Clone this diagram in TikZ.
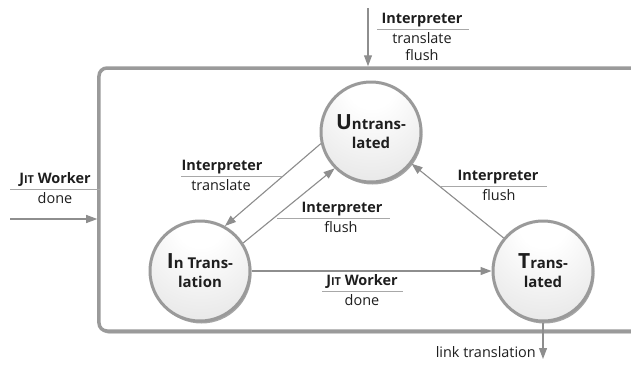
\documentclass[tikz,border=0pt]{standalone}
\usepackage{fontspec}
\setmainfont{Open Sans}
\usetikzlibrary{arrows.meta,shadows,calc}
\definecolor{arrgray}{HTML}{8E8E8E}
\definecolor{labgray}{HTML}{A8A8A8}
\definecolor{rimgray}{HTML}{9A9A9A}
\definecolor{txt}{HTML}{1E1E1E}
\pgfdeclareradialshading{ballgray}{\pgfpoint{0bp}{30bp}}{color(0bp)=(white); color(12bp)=(white); color(60bp)=(black!17)}
\newcommand{\jit}{J{\fontsize{11}{12}\selectfont IT}}
\begin{document}
\begin{tikzpicture}[x=1bp,y=-1bp,
  state/.style={circle, minimum size=100bp, inner sep=0pt, draw=rimgray, line width=3bp,
    shading=ballgray,
    drop shadow={shadow xshift=1.5bp, shadow yshift=-2.5bp, opacity=0.35, fill=black},
    align=center, text=txt, font=\bfseries\fontsize{15}{19}\selectfont},
  outerbox/.style={draw=rimgray, line width=3.5bp, rounded corners=8bp, fill=white,
    minimum width=621bp, minimum height=263bp, inner sep=0pt,
    drop shadow={shadow xshift=1.5bp, shadow yshift=-2.5bp, opacity=0.3, fill=black}},
  conn/.style={draw=arrgray, line width=1.1bp, -{Triangle[length=11bp,width=8bp]}, fill=arrgray},
  labline/.style={draw=labgray, line width=1bp},
  evtop/.style={anchor=base, inner sep=0pt, text=txt, font=\bfseries\fontsize{14.5}{16}\selectfont},
  evbot/.style={anchor=base, inner sep=0pt, text=txt, font=\fontsize{14.5}{16}\selectfont}]
\useasboundingbox (0,0) rectangle (631,373);

% outer box (open to the right)
\node[outerbox] (box) at (409.5,199.5) {};

% states
\node[state] (u) at (371,132) {{\fontsize{21}{19}\selectfont U}ntrans-\\lated};
\node[state] (i) at (200,271) {{\fontsize{21}{19}\selectfont I}n Trans-\\lation};
\node[state] (t) at (543,271) {{\fontsize{21}{19}\selectfont T}rans-\\lated};

% free ends
\coordinate (topin) at (368,8);
\coordinate (leftin) at (10,219);
\coordinate (linkout) at (543,359);

% connectors
\draw[conn] (topin) -- (topin |- box.north);
\draw[conn] (leftin) -- (leftin -| box.west);
\draw[conn] (u.193) -- (i.61);
\draw[conn] (i.33) -- (u.225);
\draw[conn] (t.140) -- (u.322);
\draw[conn] (i.east) -- (t.west);
\draw[conn] (t.south) -- (linkout);

% label: top
\draw[labline] (377,29) -- (469,29);
\node[evtop] (l1a) at (422,23) {Interpreter};
\node[evbot] (l1b) at (422,43) {translate};
\node[evbot] (l1c) at (422,60) {flush};

% label: left
\draw[labline] (10,189) -- (100,189);
\node[evtop] (l2a) at (55,183) {\jit\ Worker};
\node[evbot] (l2b) at (55,203) {done};

% label: translate (u -> i)
\draw[labline] (181,176) -- (282,176);
\node[evtop] (l3a) at (222,170) {Interpreter};
\node[evbot] (l3b) at (221,190) {translate};

% label: flush (i -> u)
\draw[labline] (277,218) -- (390,218);
\node[evtop] (l4a) at (342,212) {Interpreter};
\node[evbot] (l4b) at (341,232) {flush};

% label: flush (t -> u)
\draw[labline] (440,186) -- (547,186);
\node[evtop] (l5a) at (498,180) {Interpreter};
\node[evbot] (l5b) at (499,200) {flush};

% label: JIT done (i -> t)
\draw[labline] (322,291) -- (403,291);
\node[evtop] (l6a) at (362,285) {\jit\ Worker};
\node[evbot] (l6b) at (362,305) {done};

% label: link translation
\node[evbot, anchor=base east] (l7) at (536,357) {link translation};
\end{tikzpicture}
\end{document}
